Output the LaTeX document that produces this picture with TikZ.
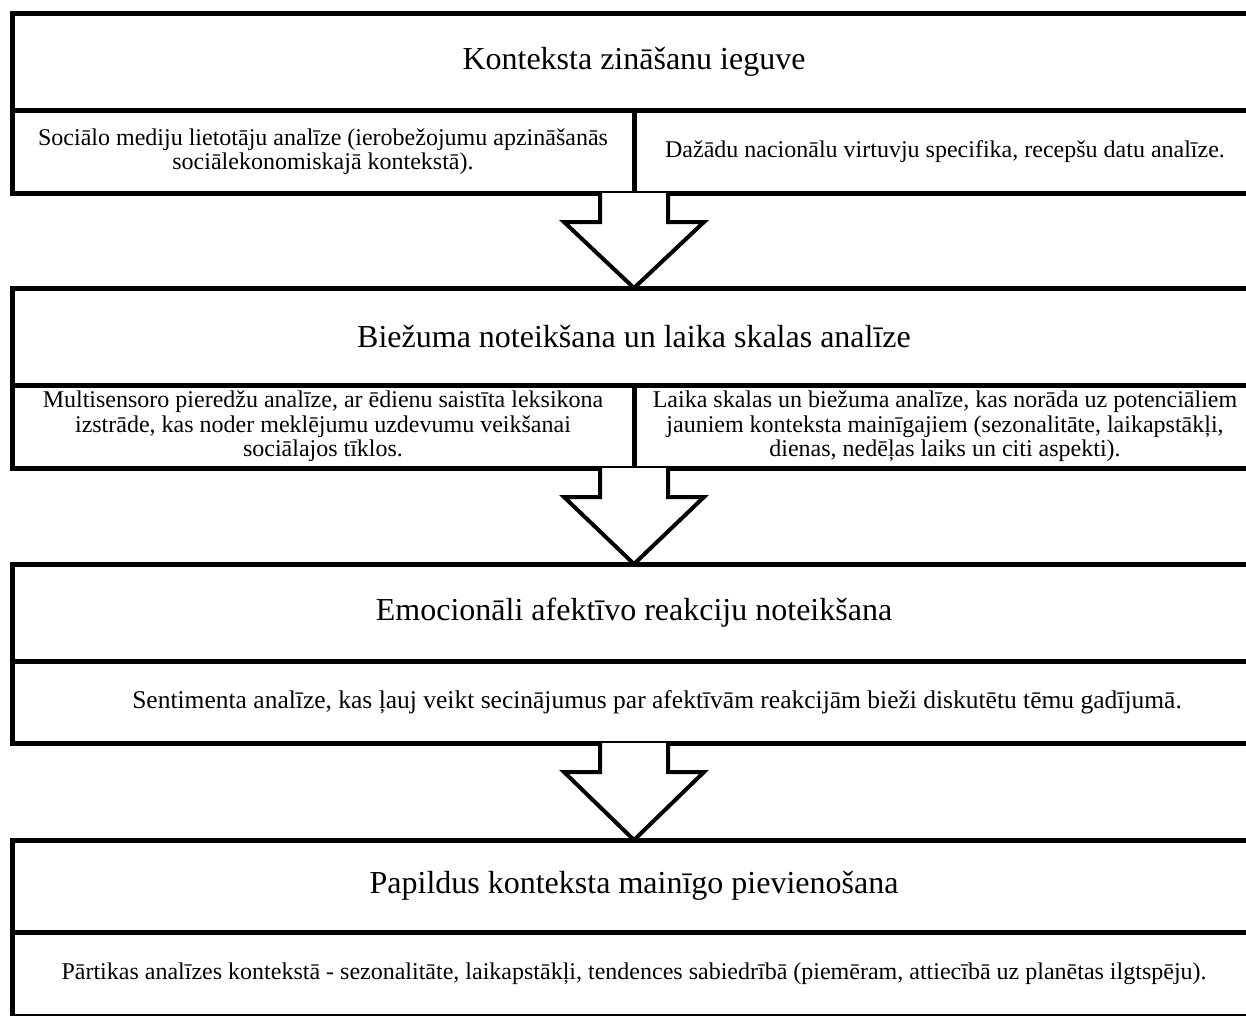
\documentclass[tikz,border=0pt]{standalone}
\usepackage{fontspec}
\setmainfont{Liberation Serif}
\usepackage{tikz}
\usetikzlibrary{calc,positioning}
\newcommand{\flowarrow}[2]{%
  \draw[flow] let \p1=(#1), \p2=(#2) in
    (\x1-34pt,\y1) -- (\x1-34pt,\y1-29pt) -- (\x1-70pt,\y1-29pt) -- (\x1,\y2)
    -- (\x1+70pt,\y1-29pt) -- (\x1+34pt,\y1-29pt) -- (\x1+34pt,\y1);}

\begin{document}
\begin{tikzpicture}[
  x=1pt, y=-1pt,
  font=\fontsize{24}{24.5}\selectfont,
  every node/.style={align=center, outer sep=0pt, inner sep=0pt},
  hd/.style={draw, line width=5pt, minimum width=1244pt, minimum height=97pt,
             anchor=north west, font=\fontsize{32}{36}\selectfont},
  cell/.style={draw, line width=5pt, minimum height=83pt, anchor=north west},
  half/.style={cell, minimum width=622pt},
  full/.style={cell, minimum width=1244pt},
  flow/.style={draw, line width=4pt, line join=miter, fill=white},
]
\useasboundingbox (0,0) rectangle (1246,1015);

% ---------- block 1 ----------
\node[hd] (h1) at (12,13) {Konteksta zināšanu ieguve};
\node[half] (c1a) at (12,110)
  {Sociālo mediju lietotāju analīze (ierobežojumu apzināšanās\\
   sociālekonomiskajā kontekstā).};
\node[half] (c1b) at (634,110)
  {Dažādu nacionālu virtuvju specifika, recepšu datu analīze.};

% ---------- block 2 ----------
\node[hd] (h2) at (12,288) {Biežuma noteikšana un laika skalas analīze};
\node[half] (c2a) at (12,385)
  {Multisensoro pieredžu analīze, ar ēdienu saistīta leksikona\\
   izstrāde, kas noder meklējumu uzdevumu veikšanai\\
   sociālajos tīklos.};
\node[half] (c2b) at (634,385)
  {Laika skalas un biežuma analīze, kas norāda uz potenciāliem\\
   jauniem konteksta mainīgajiem (sezonalitāte, laikapstākļi,\\
   dienas, nedēļas laiks un citi aspekti).};

% ---------- block 3 ----------
\node[hd] (h3) at (12,564) {Emocionāli afektīvo reakciju noteikšana};
\node[full, minimum height=82pt, font=\fontsize{25.5}{27}\selectfont] (c3) at (12,661)
  {\hspace*{46pt}Sentimenta analīze, kas ļauj veikt secinājumus par afektīvām reakcijām bieži diskutētu tēmu gadījumā.};

% ---------- block 4 ----------
\node[hd, minimum height=92pt] (h4) at (12,840) {Papildus konteksta mainīgo pievienošana};
\node[full, minimum height=84pt] (c4) at (12,932)
  {Pārtikas analīzes kontekstā - sezonalitāte, laikapstākļi, tendences sabiedrībā (piemēram, attiecībā uz planētas ilgtspēju).};

% ---------- arrows ----------
\flowarrow{c1a.south east}{h2.north}
\flowarrow{c2a.south east}{h3.north}
\flowarrow{c3.south}{h4.north}
\end{tikzpicture}
\end{document}
